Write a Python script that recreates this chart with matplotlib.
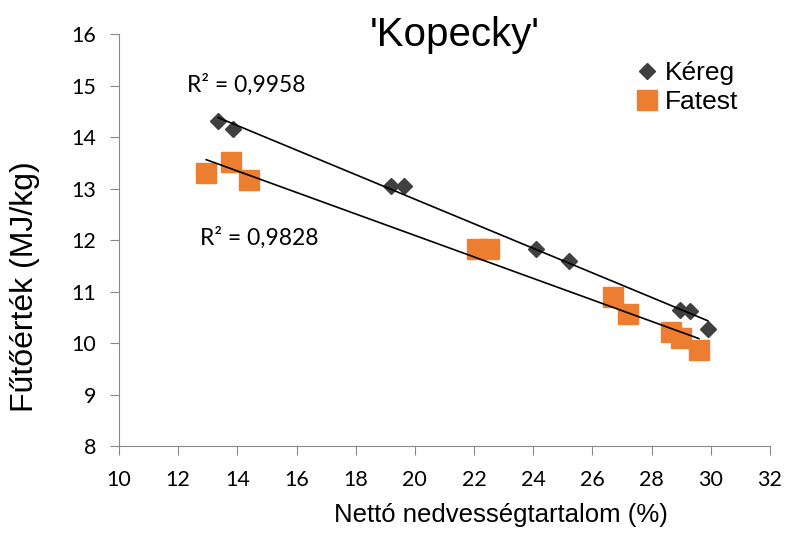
import numpy as np
import matplotlib.pyplot as plt

# values
kereg_x = [13.35, 13.85, 19.2, 19.65, 24.1, 25.2, 28.95, 29.3, 29.9]
kereg_y = [14.32, 14.15, 13.05, 13.05, 11.83, 11.6, 10.65, 10.63, 10.27]
fatest_x = [12.95, 13.8, 14.4, 22.1, 22.5, 26.7, 27.2, 28.65, 29.0, 29.6]
fatest_y = [13.3, 13.52, 13.17, 11.83, 11.83, 10.9, 10.56, 10.22, 10.1, 9.87]
r2_labels = ["R² = 0,9958", "R² = 0,9828"]

arial = ['Liberation Sans', 'DejaVu Sans']
plt.rcParams['font.family'] = ['Lato', 'DejaVu Sans']

fig = plt.figure(figsize=(7.88, 5.33), dpi=100)
ax = fig.add_axes([0.151, 0.163, 0.826, 0.773])

ax.plot(kereg_x, kereg_y, linestyle='none', marker='D', markersize=8.5,
        color='#404040', label='Kéreg', zorder=3)
ax.plot(fatest_x, fatest_y, linestyle='none', marker='s', markersize=14,
        color='#ED7D31', label='Fatest', zorder=3)

# linear trend lines
for xs, ys in [(kereg_x, kereg_y), (fatest_x, fatest_y)]:
    k, b = np.polyfit(xs, ys, 1)
    xx = np.array([min(xs), max(xs)])
    ax.plot(xx, k * xx + b, color='black', linewidth=1.2, zorder=4)

ax.text(14.3, 15.02, r2_labels[0], fontsize=16.5, ha='center', va='center')
ax.text(14.75, 12.05, r2_labels[1], fontsize=16.5, ha='center', va='center')

ax.set_xlim(10, 32)
ax.set_ylim(8, 16)
ax.set_xticks(range(10, 33, 2))
ax.set_yticks(range(8, 17))
ax.tick_params(labelsize=15.5, direction='out', length=6.5, color='#888888')
ax.tick_params(axis='y', pad=10)
ax.tick_params(axis='x', pad=11)

for s in ['top', 'right']:
    ax.spines[s].set_visible(False)
for s in ['left', 'bottom']:
    ax.spines[s].set_color('#888888')

ax.set_xlabel("Nettó nedvességtartalom (%)", fontsize=18.5, family=arial)
ax.xaxis.set_label_coords(0.587, -0.138)
ax.set_ylabel("Fűtőérték (MJ/kg)", fontsize=23, family=arial)
ax.yaxis.set_label_coords(-0.122, 0.388)

fig.text(0.577, 0.935, "'Kopecky'", fontsize=29, ha='center', va='center',
         family=arial)

ax.legend(loc='upper left', bbox_to_anchor=(0.77, 0.96), frameon=False,
          prop={'family': arial, 'size': 19}, handletextpad=0.1,
          labelspacing=0.2, borderaxespad=0.0, handlelength=1.2)

fig.savefig('out.png', dpi=100)
